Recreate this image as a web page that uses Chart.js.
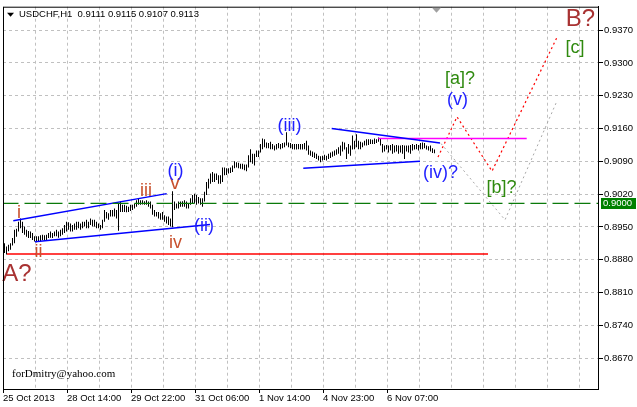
<!DOCTYPE html>
<html lang="en">
<head>
<meta charset="UTF-8">
<title>USDCHF,H1</title>
<script src="https://cdn.jsdelivr.net/npm/chart.js"></script>
<style>
  html, body { margin: 0; padding: 0; background: #fff; }
  canvas { display: block; }
</style>
</head>
<body>
<canvas id="chart" width="637" height="407"></canvas>
<script>
// H1 bars (high / low per bar)
const highs = [
  0.8915,0.8908,0.8912,0.8915,0.8926,0.8944,0.8946,0.8961,0.8968,0.8961,0.8951,0.8944,
  0.8941,0.8940,0.8937,0.8930,0.8930,0.8930,0.8932,0.8933,0.8932,0.8933,0.8937,0.8940,
  0.8937,0.8940,0.8944,0.8940,0.8944,0.8947,0.8954,0.8961,0.8960,0.8957,0.8954,0.8957,
  0.8961,0.8961,0.8957,0.8961,0.8961,0.8965,0.8961,0.8968,0.8965,0.8965,0.8961,0.8957,
  0.8954,0.8965,0.8986,0.8982,0.8979,0.8986,
  0.8986,0.8989,0.8986,0.9000,0.9004,0.8997,0.8997,0.8995,0.8993,0.8997,0.8997,0.9000,
  0.9007,0.9011,0.9007,0.9007,0.9005,0.9007,0.9004,0.9004,0.8997,0.8986,0.8982,0.8982,
  0.8979,0.8982,0.8975,0.8972,0.8972,0.8968,0.9026,0.9004,0.9000,0.9004,0.9004,0.9005,
  0.9007,0.9004,0.9000,0.9011,0.9018,0.9021,0.9018,0.9014,0.9011,0.9011,0.9025,0.9046,
  0.9053,0.9064,0.9067,0.9064,0.9064,0.9060,
  0.9060,0.9077,0.9077,0.9075,0.9075,0.9077,0.9081,0.9090,0.9088,0.9087,0.9085,0.9085,
  0.9083,0.9083,0.9103,0.9116,0.9106,0.9106,0.9113,0.9113,0.9127,0.9139,0.9137,0.9130,
  0.9129,0.9132,0.9127,0.9124,0.9127,0.9129,0.9127,0.9129,0.9130,0.9152,0.9130,0.9129,
  0.9127,0.9127,0.9127,0.9127,0.9127,0.9127,0.9129,0.9134,0.9124,0.9113,0.9111,0.9109,
  0.9106,0.9102,0.9101,0.9102,0.9104,0.9102,0.9106,0.9109,
  0.9111,0.9113,0.9116,0.9120,0.9124,0.9132,0.9130,0.9120,0.9127,0.9124,0.9145,0.9134,
  0.9148,0.9134,0.9132,0.9130,0.9134,0.9137,0.9137,0.9137,0.9136,0.9139,0.9137,0.9141,
  0.9139,0.9127,0.9124,0.9125,0.9124,0.9125,0.9127,0.9124,0.9125,0.9124,0.9124,0.9125,
  0.9124,0.9124,0.9124,0.9125,0.9127,0.9125,0.9127,0.9125,0.9129,0.9130,0.9129,0.9124,
  0.9122,0.9124,0.9118,0.9115
];
const lows = [
  0.8894,0.8891,0.8898,0.8901,0.8910,0.8915,0.8929,0.8940,0.8947,0.8937,0.8933,0.8929,
  0.8926,0.8926,0.8922,0.8919,0.8917,0.8919,0.8920,0.8922,0.8921,0.8922,0.8926,0.8927,
  0.8926,0.8930,0.8930,0.8927,0.8930,0.8933,0.8937,0.8940,0.8944,0.8940,0.8940,0.8944,
  0.8944,0.8947,0.8944,0.8947,0.8951,0.8947,0.8947,0.8954,0.8951,0.8951,0.8947,0.8947,
  0.8944,0.8947,0.8961,0.8968,0.8965,0.8972,
  0.8972,0.8972,0.8968,0.8942,0.8982,0.8982,0.8982,0.8981,0.8982,0.8984,0.8986,0.8989,
  0.8993,0.8997,0.8997,0.8998,0.8997,0.8997,0.8993,0.8989,0.8976,0.8972,0.8972,0.8968,
  0.8965,0.8965,0.8961,0.8957,0.8954,0.8951,0.8949,0.8986,0.8989,0.8989,0.8993,0.8993,
  0.8993,0.8989,0.8989,0.8997,0.9000,0.9000,0.8997,0.9000,0.8997,0.8993,0.9004,0.9018,
  0.9032,0.9042,0.9046,0.9046,0.9050,0.9042,
  0.9042,0.9046,0.9060,0.9061,0.9064,0.9065,0.9067,0.9075,0.9077,0.9075,0.9074,0.9073,
  0.9071,0.9069,0.9077,0.9088,0.9085,0.9081,0.9099,0.9099,0.9109,0.9116,0.9120,0.9118,
  0.9118,0.9116,0.9116,0.9113,0.9115,0.9118,0.9116,0.9118,0.9120,0.9124,0.9120,0.9118,
  0.9116,0.9115,0.9115,0.9116,0.9115,0.9115,0.9116,0.9113,0.9104,0.9102,0.9099,0.9097,
  0.9095,0.9092,0.9088,0.9092,0.9093,0.9092,0.9095,0.9097,
  0.9100,0.9102,0.9104,0.9106,0.9102,0.9111,0.9115,0.9095,0.9106,0.9102,0.9115,0.9116,
  0.9120,0.9116,0.9116,0.9120,0.9124,0.9124,0.9125,0.9127,0.9127,0.9127,0.9129,0.9132,
  0.9124,0.9109,0.9111,0.9115,0.9109,0.9113,0.9106,0.9109,0.9111,0.9106,0.9109,0.9106,
  0.9095,0.9111,0.9109,0.9106,0.9113,0.9115,0.9116,0.9113,0.9116,0.9116,0.9118,0.9115,
  0.9113,0.9111,0.9108,0.9107
];
const lastQuote = [0.9111, 0.9115, 0.9107, 0.9113];

const priceTicks = [0.8670, 0.8740, 0.8810, 0.8880, 0.8950, 0.9020, 0.9090, 0.9160, 0.9230, 0.9300, 0.9370];
const dateLabels = ['25 Oct 2013', '28 Oct 14:00', '29 Oct 22:00', '31 Oct 06:00', '1 Nov 14:00', '4 Nov 23:00', '6 Nov 07:00'];

// drawn objects, points as [bar, price]
const supportLine = [[1.25, 0.8892], [241.75, 0.8892]];
const levelLine = 0.9000;
const wedgeUpper = [[4.4, 0.8963], [81.1, 0.9021]];
const wedgeLower = [[15.25, 0.8918], [102.75, 0.8955]];
const triUpper = [[163.6, 0.9160], [217.75, 0.9129]];
const triLower = [[149.4, 0.9075], [207.75, 0.9090]];
const magentaLine = [[186.9, 0.9139], [261.1, 0.9139]];
const redPath = [[216.75, 0.9099], [226.25, 0.9185], [243.75, 0.9069], [276.25, 0.9355]];
const grayPath = [[218.25, 0.9128], [250.25, 0.8965], [276.25, 0.9219]];

const waveLabels = [
  { text: 'i',     bar: 7.25,   price: 0.8979, color: '#c8502d', size: 18 },
  { text: 'ii',    bar: 17,     price: 0.8896, color: '#c8502d', size: 18 },
  { text: 'iii',   bar: 70.75,  price: 0.9027, color: '#c8502d', size: 18 },
  { text: 'iv',    bar: 85.5,   price: 0.8916, color: '#c8502d', size: 18 },
  { text: 'v',     bar: 85.25,  price: 0.9042, color: '#c8502d', size: 20 },
  { text: '(i)',   bar: 85.5,   price: 0.9070, color: '#1f1fff', size: 18 },
  { text: '(ii)',  bar: 99.75,  price: 0.8952, color: '#1f1fff', size: 18 },
  { text: '(iii)', bar: 142.5,  price: 0.9165, color: '#1f1fff', size: 18 },
  { text: '(iv)?', bar: 218,    price: 0.9064, color: '#1f1fff', size: 18 },
  { text: '(v)',   bar: 226.5,  price: 0.9220, color: '#1f1fff', size: 18 },
  { text: '[a]?',  bar: 227.75, price: 0.9266, color: '#2f8a0f', size: 18 },
  { text: '[b]?',  bar: 248.5,  price: 0.9034, color: '#2f8a0f', size: 18 },
  { text: '[c]',   bar: 285.25, price: 0.9333, color: '#2f8a0f', size: 18 },
  { text: 'B?',    bar: 288,    price: 0.9393, color: '#a83232', size: 24 },
  { text: 'A?',    bar: 6.25,   price: 0.8849, color: '#a83232', size: 24 }
];

const FONT = '"Liberation Sans", Arial, sans-serif';
const pts = arr => arr.map(p => ({ x: p[0], y: p[1] }));

function lineSet(arr, color, width, dash) {
  return {
    type: 'line', data: pts(arr), borderColor: color, borderWidth: width,
    borderDash: dash || [], pointRadius: 0, fill: false, tension: 0, order: 1
  };
}

const overlay = {
  id: 'overlay',
  afterDatasetsDraw(chart) {
    const { ctx, scales: { x, y } } = chart;
    ctx.save();
    ctx.textAlign = 'center';
    ctx.textBaseline = 'middle';
    waveLabels.forEach(l => {
      ctx.font = l.size + 'px ' + FONT;
      ctx.fillStyle = l.color;
      ctx.fillText(l.text, x.getPixelForValue(l.bar), y.getPixelForValue(l.price));
    });
    ctx.restore();
  },
  afterDraw(chart) {
    const { ctx, chartArea: a, scales: { x, y } } = chart;
    ctx.save();
    // frame
    ctx.strokeStyle = '#000';
    ctx.lineWidth = 1;
    ctx.strokeRect(a.left + 0.5, a.top + 0.5, a.width, a.height);
    // header
    ctx.fillStyle = '#000';
    ctx.beginPath();
    ctx.moveTo(a.left + 4, a.top + 6);
    ctx.lineTo(a.left + 11, a.top + 6);
    ctx.lineTo(a.left + 7.5, a.top + 10);
    ctx.closePath();
    ctx.fill();
    ctx.font = '9.5px ' + FONT;
    ctx.textAlign = 'left';
    ctx.textBaseline = 'middle';
    ctx.fillText('USDCHF,H1  ' + lastQuote.map(v => v.toFixed(4)).join(' '), a.left + 16, a.top + 7.5);
    // chart shift marker
    const sx = x.getPixelForValue(highs.length);
    ctx.fillStyle = '#a0a0a0';
    ctx.beginPath();
    ctx.moveTo(sx - 4.5, a.top + 1);
    ctx.lineTo(sx + 4.5, a.top + 1);
    ctx.lineTo(sx, a.top + 6);
    ctx.closePath();
    ctx.fill();
    // watermark
    ctx.fillStyle = '#000';
    ctx.font = '11px "Liberation Serif", "Times New Roman", serif';
    ctx.fillText('forDmitry@yahoo.com', a.left + 9, 374);
    // level price box
    const py = Math.round(y.getPixelForValue(levelLine));
    ctx.fillStyle = '#008000';
    ctx.fillRect(a.right + 3, py - 5, 35, 11);
    ctx.fillStyle = '#fff';
    ctx.font = '9.5px ' + FONT;
    ctx.fillText(levelLine.toFixed(4), a.right + 5, py + 0.5);
    ctx.restore();
  }
};

new Chart(document.getElementById('chart'), {
  type: 'line',
  data: {
    datasets: [
      {
        type: 'bar',
        data: highs.map((h, i) => ({ x: i, y: [lows[i], h] })),
        backgroundColor: '#000',
        borderWidth: 0,
        barThickness: 1,
        inflateAmount: 0,
        grouped: false,
        order: 10
      },
      lineSet([[-1, levelLine], [300, levelLine]], '#0a7a0a', 1.2, [16, 6]),
      lineSet(supportLine, '#ff0000', 1.5),
      lineSet(wedgeUpper, '#0000ff', 1.5),
      lineSet(wedgeLower, '#0000ff', 1.5),
      lineSet(triUpper, '#0000ff', 1.5),
      lineSet(triLower, '#0000ff', 1.5),
      lineSet(magentaLine, '#ff00ff', 1.5),
      lineSet(grayPath, '#a8a8a8', 1, [2, 3]),
      lineSet(redPath, '#ff0000', 1.2, [2, 3])
    ]
  },
  options: {
    responsive: false,
    animation: false,
    events: [],
    layout: { padding: { left: 3, top: 3, right: 0, bottom: 0 } },
    plugins: { legend: { display: false }, tooltip: { enabled: false } },
    scales: {
      x: {
        type: 'linear',
        min: -0.75,
        max: 296.75,
        bounds: 'data',
        offset: false,
        afterFit(s) { s.height = 18; },
        afterBuildTicks(s) {
          const t = [];
          for (let k = 0; k <= 18; k++) t.push({ value: -0.75 + 16 * k });
          s.ticks = t;
        },
        grid: {
          offset: false,
          color: '#c0c0c0',
          lineWidth: 1,
          tickLength: 4,
          tickColor: c => (c.index % 2 === 0 && c.index / 2 < dateLabels.length) ? '#000' : 'rgba(0,0,0,0)'
        },
        border: { color: '#000', width: 1, dash: [3, 3] },
        ticks: {
          autoSkip: false,
          maxRotation: 0,
          minRotation: 0,
          align: 'start',
          padding: 0,
          color: '#000',
          font: { family: FONT, size: 9.5 },
          callback: (v, i) => (i % 2 === 0 && dateLabels[i / 2]) ? dateLabels[i / 2] : ''
        }
      },
      y: {
        type: 'linear',
        position: 'right',
        min: 0.86038,
        max: 0.94202,
        bounds: 'data',
        afterFit(s) { s.width = 39; },
        afterBuildTicks(s) { s.ticks = priceTicks.map(v => ({ value: v })); },
        grid: { color: '#c0c0c0', lineWidth: 1, tickLength: 5, tickColor: '#000' },
        border: { color: '#000', width: 1, dash: [3, 3] },
        ticks: {
          padding: 1,
          color: '#000',
          font: { family: FONT, size: 9.5 },
          callback: v => Number(v).toFixed(4)
        }
      }
    }
  },
  plugins: [overlay]
});
</script>
</body>
</html>
